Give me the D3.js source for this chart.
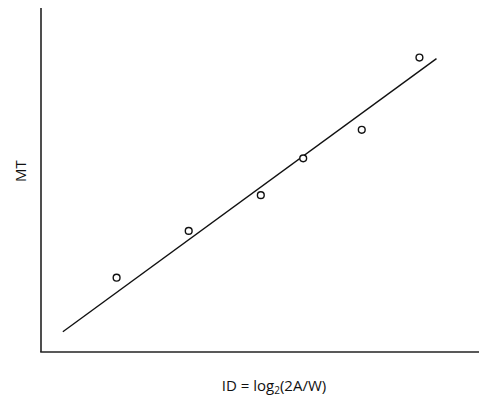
<!DOCTYPE html>
<html><head><meta charset="utf-8">
<script src="https://cdn.jsdelivr.net/npm/d3@7"></script>
<style>body{margin:0;background:#fff}svg{display:block}</style>
</head><body>
<script>
const idValues = [1.73, 3.38, 5.03, 6.00, 7.34, 8.66];
const mtValues = [2.16, 3.52, 4.56, 5.63, 6.46, 8.56];
const fitX = [0.50, 9.05];
const fitY = [0.59, 8.53];
const xLabel = "ID = log";
const yLabel = "MT";

const W = 480, H = 398;
const svg = d3.select("body").append("svg").attr("width", W).attr("height", H);
const x = d3.scaleLinear().domain([0, 10]).range([41, 478]);
const y = d3.scaleLinear().domain([0, 10]).range([352, 8]);

// axes
svg.append("line").attr("x1", x(0)).attr("x2", x(0)).attr("y1", y(10)).attr("y2", y(0))
  .attr("stroke", "#222").attr("stroke-width", 1.6);
svg.append("line").attr("x1", x(0) - 0.8).attr("x2", 479).attr("y1", y(0)).attr("y2", y(0))
  .attr("stroke", "#222").attr("stroke-width", 1.6);

// fit line
svg.append("line").attr("x1", x(fitX[0])).attr("y1", y(fitY[0])).attr("x2", x(fitX[1])).attr("y2", y(fitY[1]))
  .attr("stroke", "#111").attr("stroke-width", 1.4);

// points
svg.selectAll("circle.pt").data(idValues).join("circle").attr("class", "pt")
  .attr("cx", d => x(d)).attr("cy", (d, i) => y(mtValues[i])).attr("r", 3.4)
  .attr("fill", "#fff").attr("stroke", "#111").attr("stroke-width", 1.4);

// labels
const xt = svg.append("text").attr("x", 274).attr("y", 391).attr("text-anchor", "middle")
  .attr("font-family", "Open Sans, sans-serif").attr("font-size", 15).attr("fill", "#111");
xt.append("tspan").text(xLabel);
xt.append("tspan").attr("font-size", 10).attr("dy", 3).text("2");
xt.append("tspan").attr("dy", -3).text("(2A/W)");

svg.append("text").attr("transform", "translate(26,171) rotate(-90)").attr("text-anchor", "middle")
  .attr("font-family", "Open Sans, sans-serif").attr("font-size", 15).attr("fill", "#111").text(yLabel);
</script>
</body></html>
